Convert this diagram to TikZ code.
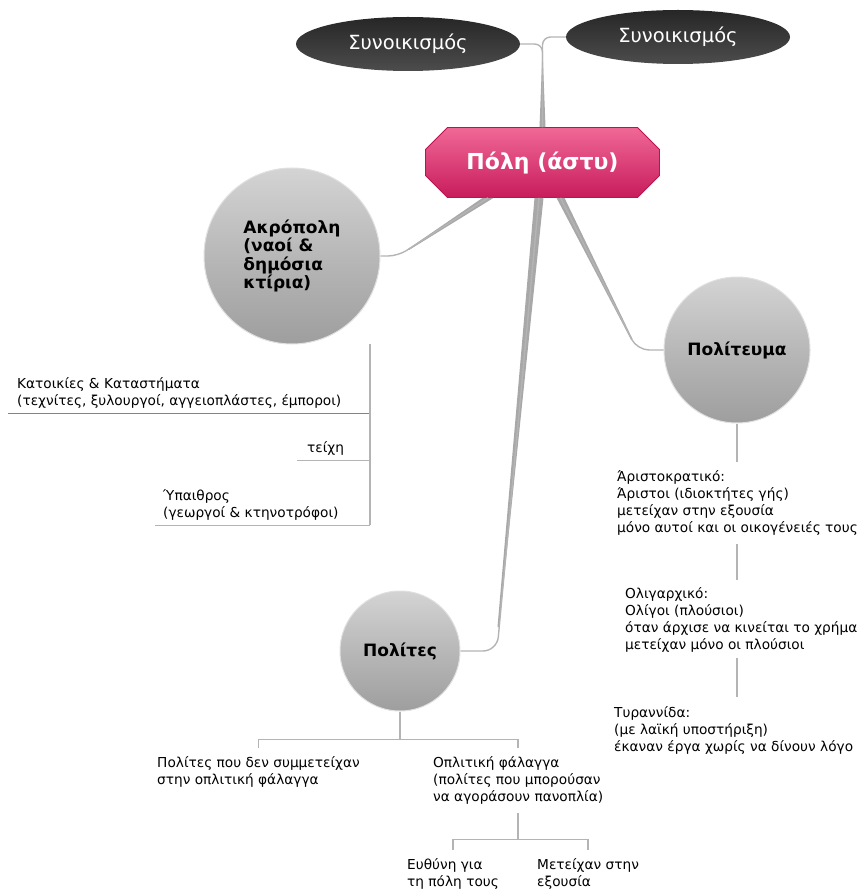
\documentclass[tikz,border=0pt]{standalone}
\usepackage{fontspec}
\setmainfont{DejaVu Sans}
\usetikzlibrary{shapes.geometric, shapes.misc, calc}

\definecolor{cityTop}{RGB}{240,104,150}
\definecolor{cityBot}{RGB}{200,28,92}
\definecolor{cityRim}{RGB}{185,20,80}
\definecolor{twigGray}{RGB}{180,180,180}
\definecolor{stemGray}{RGB}{168,168,168}
\definecolor{pickBlue}{RGB}{80,140,220}

\tikzset{
  city/.style={chamfered rectangle, chamfered rectangle xsep=11pt, chamfered rectangle ysep=11pt,
    minimum width=234pt, minimum height=70pt, top color=cityTop, bottom color=cityBot,
    draw=cityRim, line width=0.8pt, text=white, font=\fontsize{22}{26}\selectfont\bfseries},
  hamlet/.style={ellipse, minimum width=224pt, minimum height=54pt, top color=black!85,
    bottom color=black!70, text=white, font=\fontsize{19.5}{22}\selectfont},
  topic/.style={circle, top color=black!17, bottom color=black!38, middle color=black!28,
    draw=black!12, line width=1pt, font=\fontsize{17}{19}\selectfont\bfseries},
  leaf/.style={anchor=north west, inner sep=0pt, align=left, font=\fontsize{13.7}{17}\selectfont},
  twig/.style={draw=twigGray, line width=1.4pt},
  pick/.style={draw=pickBlue, line width=1.4pt},
  stem/.style={fill=stemGray},
}

\begin{document}
\begin{tikzpicture}[x=1pt, y=-1pt]
  \useasboundingbox (0,0) rectangle (863,890);

  % Centre and settlements
  \node[city] (polh) at (542.5,162.5) {Πόλη (άστυ)};
  \node[hamlet] (syn1) at (408,44) {Συνοικισμός};
  \node[hamlet] (syn2) at (678,37) {Συνοικισμός};

  % Main topics
  \node[topic, minimum size=176pt, align=left, font=\fontsize{17}{18.5}\selectfont\bfseries] (akro)
    at (292,256) {Ακρόπολη\\(ναοί \&\\δημόσια\\κτίρια)};
  \node[topic, minimum size=146pt] (politeuma) at (737,350) {Πολίτευμα};
  \node[topic, minimum size=120pt] (polites) at (400,651) {Πολίτες};

  % Stems from the centre
  \fill[stem] ($(polh.north)+(-3,0)$) -- ($(polh.north)+(3,0)$) -- (543,62) -- (542,62) -- cycle;
  \draw[twig, rounded corners=8pt] (syn1.east) -| (polh.north);
  \draw[twig, rounded corners=8pt] (polh.north) |- (syn2.west);

  \fill[stem] ($(polh.south)+(-60,0)$) -- ($(polh.south)+(-49,0)$) -- (409,250) -- (408,249) -- cycle;
  \draw[twig, rounded corners=10pt] ($(polh.south)+(-54.5,0)$) -- (398,256) -- (akro.east);

  \fill[stem] ($(polh.south)+(-8,0)$) -- ($(polh.south)+(1,0)$) -- (499,627) -- (497.5,627) -- cycle;
  \draw[twig, rounded corners=14pt] ($(polh.south)+(-3.5,0)$) -- (497,651) -- (polites.east);

  \fill[stem] ($(polh.south)+(14,0)$) -- ($(polh.south)+(22,0)$) -- (632.5,339) -- (631,339.5) -- cycle;
  \draw[twig, rounded corners=12pt] ($(polh.south)+(18,0)$) -- (637,350) -- (politeuma.west);

  % Acropolis branch
  \node[leaf] (katoikies) at (17,377) {Κατοικίες \& Καταστήματα\\(τεχνίτες, ξυλουργοί, αγγειοπλάστες, έμποροι)};
  \node[leaf] (teixh) at (307,441) {τείχη};
  \node[leaf] (ypaithros) at (163,489) {Ύπαιθρος\\(γεωργοί \& κτηνοτρόφοι)};

  \coordinate (akrofoot) at ($(akro.south)+(78,-1)$);
  \draw[pick] (katoikies.south west) ++(-9,5) coordinate (kline) -- (kline -| akrofoot);
  \draw[twig] (teixh.south west) ++(-10,5) coordinate (tline) -- (tline -| akrofoot);
  \draw[twig] (ypaithros.south west) ++(-8,5) coordinate (yline) -- (yline -| akrofoot);
  \draw[twig] (akrofoot) -- (yline -| akrofoot);

  % Constitution branch
  \node[leaf] (aristo) at (617,470) {Άριστοκρατικό:\\Άριστοι (ιδιοκτήτες γής)\\μετείχαν στην εξουσία\\μόνο αυτοί και οι οικογένειές τους};
  \node[leaf] (oligo) at (625,587) {Ολιγαρχικό:\\Ολίγοι (πλούσιοι)\\όταν άρχισε να κινείται το χρήμα\\μετείχαν μόνο οι πλούσιοι};
  \node[leaf] (tyranno) at (614,706) {Τυραννίδα:\\(με λαϊκή υποστήριξη)\\έκαναν έργα χωρίς να δίνουν λόγο};

  \draw[twig] (politeuma.south) -- ($(politeuma.south |- aristo.north)+(0,-8)$);
  \draw[twig] ($(politeuma.south |- aristo.south)+(0,9)$) -- ($(politeuma.south |- oligo.north)+(0,-7)$);
  \draw[twig] ($(politeuma.south |- oligo.south)+(0,6)$) -- ($(politeuma.south |- tyranno.north)+(0,-9)$);

  % Citizens branch
  \node[leaf] (mhsymm) at (157,756) {Πολίτες που δεν συμμετείχαν\\στην οπλιτική φάλαγγα};
  \node[leaf] (oplites) at (433,756) {Οπλιτική φάλαγγα\\(πολίτες που μπορούσαν\\να αγοράσουν πανοπλία)};
  \node[leaf] (euthynh) at (407,858) {Ευθύνη για\\τη πόλη τους};
  \node[leaf] (meteixan) at (537,858) {Μετείχαν στην\\εξουσία};

  \coordinate (fork1) at ($(polites.south)+(0,28)$);
  \draw[twig] (polites.south) -- (fork1);
  \draw[twig] ($(mhsymm.north)+(0,-8)$) |- (fork1) -| ($(oplites.north)+(0,-8)$);
  \coordinate (fork2) at ($(oplites.south)+(0,35)$);
  \draw[twig] ($(oplites.south)+(0,9)$) -- (fork2);
  \draw[twig] ($(euthynh.north)+(0,-8)$) |- (fork2) -| ($(meteixan.north)+(0,-8)$);
\end{tikzpicture}
\end{document}
